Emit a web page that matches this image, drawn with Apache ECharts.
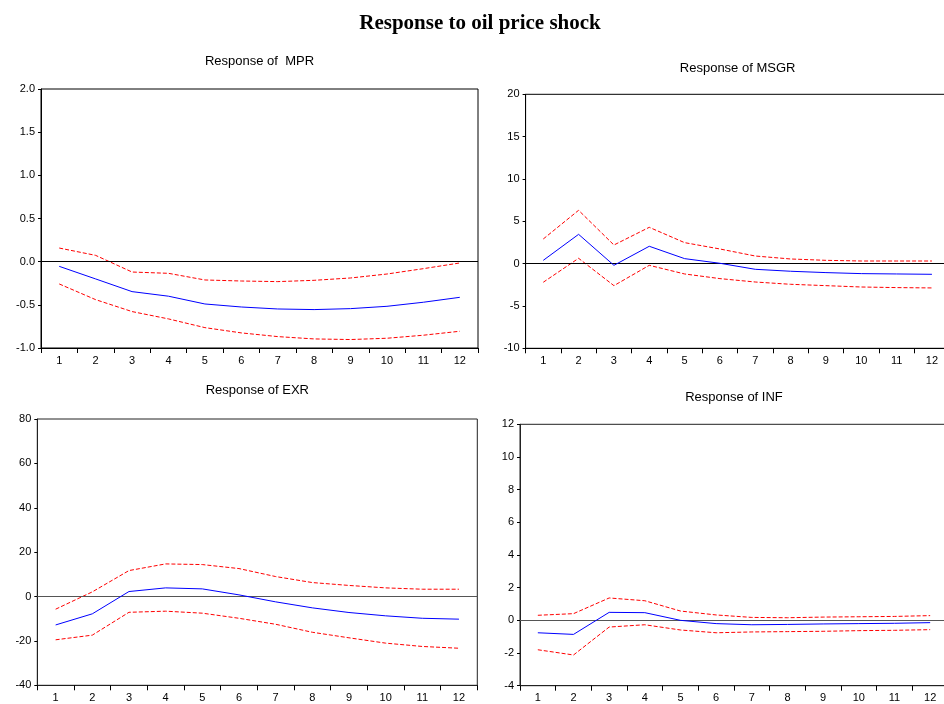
<!DOCTYPE html>
<html>
<head>
<meta charset="utf-8">
<script src="https://cdn.jsdelivr.net/npm/echarts@6/dist/echarts.min.js"></script>
<style>
html,body{margin:0;padding:0;background:#fff;overflow:hidden;}
#c{width:960px;height:704px;}
</style>
</head>
<body>
<div id="c"></div>
<script>
// ---- data ----
const periods = ['1','2','3','4','5','6','7','8','9','10','11','12'];

const mprResp  = [-0.054,-0.20,-0.347,-0.40,-0.49,-0.525,-0.548,-0.555,-0.544,-0.517,-0.47,-0.413];
const mprUpper = [0.158,0.073,-0.12,-0.135,-0.212,-0.224,-0.231,-0.216,-0.189,-0.143,-0.081,-0.015];
const mprLower = [-0.258,-0.44,-0.578,-0.663,-0.764,-0.825,-0.868,-0.895,-0.902,-0.887,-0.852,-0.806];

const msgrResp  = [0.39,3.46,-0.2,2.05,0.59,0.04,-0.67,-0.9,-1.06,-1.18,-1.22,-1.26];
const msgrUpper = [2.91,6.3,2.2,4.29,2.48,1.73,0.9,0.55,0.39,0.31,0.31,0.31];
const msgrLower = [-2.2,0.63,-2.6,-0.2,-1.22,-1.77,-2.17,-2.44,-2.6,-2.76,-2.83,-2.87];

const exrResp  = [-12.8,-7.8,2.25,3.9,3.45,0.75,-2.4,-5.1,-7.2,-8.7,-9.8,-10.2];
const exrUpper = [-5.7,2.1,11.7,14.7,14.4,12.6,9.0,6.3,5.0,3.9,3.3,3.3];
const exrLower = [-19.5,-17.4,-7.1,-6.6,-7.5,-9.8,-12.5,-16.1,-18.6,-21.0,-22.5,-23.3];

const infResp  = [-0.76,-0.86,0.49,0.47,0.0,-0.2,-0.27,-0.25,-0.22,-0.2,-0.18,-0.14];
const infUpper = [0.31,0.41,1.37,1.2,0.57,0.33,0.18,0.16,0.2,0.22,0.24,0.29];
const infLower = [-1.8,-2.12,-0.41,-0.27,-0.59,-0.76,-0.71,-0.69,-0.67,-0.63,-0.61,-0.57];

const mainTitle = 'Response to oil price shock';
const panelTitles = ['Response of  MPR','Response of MSGR','Response of EXR','Response of INF'];
const yMins = [-1, -10, -40, -4];
const yMaxs = [2, 20, 80, 12];
const yIntervals = [0.5, 5, 20, 2];
const yDecimals = [1, 0, 0, 0];

// ---- layout / style (kept separate from data) ----
const layouts = [
  {left: 41,    top: 89,    width: 437, height: 259,   titleX: 259.5, titleTop: 54.8,  border: '#000', zero: '#000'},
  {left: 525.6, top: 94.3,  width: 424, height: 254,   titleX: 737.6, titleTop: 61.5,  border: '#000', zero: '#000'},
  {left: 37.3,  top: 419,   width: 440, height: 266.3, titleX: 257.3, titleTop: 383.5, border: '#222', zero: '#555'},
  {left: 520,   top: 424.3, width: 428, height: 261.4, titleX: 734,   titleTop: 390.5, border: '#222', zero: '#555'}
];
const panelData = [
  [mprResp, mprUpper, mprLower],
  [msgrResp, msgrUpper, msgrLower],
  [exrResp, exrUpper, exrLower],
  [infResp, infUpper, infLower]
];

const sans = 'Liberation Sans, Arial, sans-serif';
const grids = [], xAxes = [], yAxes = [], series = [];
const titles = [{
  text: mainTitle, left: 480, top: 13, textAlign: 'center', padding: 0,
  textStyle: {fontFamily: 'Liberation Serif, Times New Roman, serif', fontWeight: 'bold', fontSize: 21, color: '#000'}
}];

layouts.forEach((L, i) => {
  grids.push({left: L.left, top: L.top, width: L.width, height: L.height,
    show: true, borderColor: L.border, borderWidth: 1, backgroundColor: 'transparent'});
  titles.push({text: panelTitles[i], left: L.titleX, top: L.titleTop, textAlign: 'center', padding: 0,
    textStyle: {fontFamily: sans, fontWeight: 'normal', fontSize: 13, color: '#000'}});
  xAxes.push({
    type: 'category', gridIndex: i, data: periods, boundaryGap: true,
    axisLine: {show: true, onZero: false, lineStyle: {color: L.border, width: 1}},
    axisTick: {show: true, inside: false, length: 5, interval: 0, lineStyle: {color: '#000'}},
    axisLabel: {show: true, interval: 0, margin: 7, fontSize: 11, fontFamily: sans, color: '#000'},
    splitLine: {show: false}
  });
  yAxes.push({
    type: 'value', gridIndex: i, min: yMins[i], max: yMaxs[i], interval: yIntervals[i],
    axisLine: {show: true, lineStyle: {color: L.border, width: 1}},
    axisTick: {show: true, inside: false, length: 3, lineStyle: {color: '#000'}},
    axisLabel: {show: true, margin: 6, fontSize: 11, fontFamily: sans, color: '#000',
      formatter: v => Number(v).toFixed(yDecimals[i])},
    splitLine: {show: false}
  });
  const [resp, up, lo] = panelData[i];
  series.push({
    type: 'line', xAxisIndex: i, yAxisIndex: i, data: resp, symbol: 'none', smooth: false,
    lineStyle: {color: '#0000ff', width: 1}, z: 5, silent: true,
    markLine: {silent: true, symbol: 'none', label: {show: false},
      lineStyle: {color: L.zero, width: 1, type: 'solid'}, data: [{yAxis: 0}], animation: false}
  });
  series.push({
    type: 'line', xAxisIndex: i, yAxisIndex: i, data: up, symbol: 'none', smooth: false,
    lineStyle: {color: '#ff0000', width: 1, type: [4, 2]}, z: 4, silent: true
  });
  series.push({
    type: 'line', xAxisIndex: i, yAxisIndex: i, data: lo, symbol: 'none', smooth: false,
    lineStyle: {color: '#ff0000', width: 1, type: [4, 2]}, z: 4, silent: true
  });
});

const chart = echarts.init(document.getElementById('c'), null, {renderer: 'canvas'});
chart.setOption({
  animation: false,
  backgroundColor: '#fff',
  title: titles,
  grid: grids,
  xAxis: xAxes,
  yAxis: yAxes,
  series: series
});
</script>
</body>
</html>
